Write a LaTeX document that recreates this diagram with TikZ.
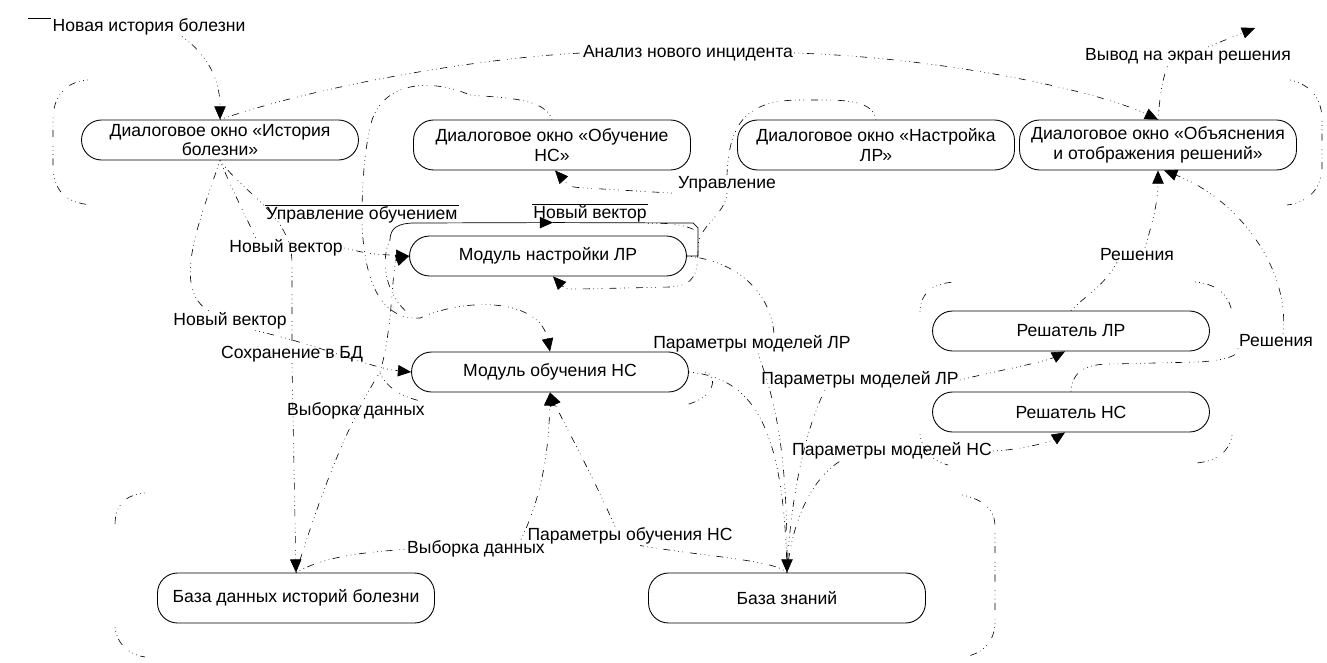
\documentclass[tikz,border=0pt]{standalone}
\usepackage{fontspec}
\setmainfont{Liberation Sans}
\usetikzlibrary{arrows.meta,calc}

\tikzset{
  box/.style={draw, line width=0.5pt, rounded corners=0.4cm, minimum width=5.54cm,
    minimum height=0.8cm, align=center, inner sep=1pt, font=\fontsize{10}{11}\selectfont},
  tall/.style={minimum height=1cm},
  lbl/.style={inner sep=0.5pt, font=\fontsize{10}{11}\selectfont},
  flow/.style={line width=0.35pt, dash pattern=on 0.4pt off 2pt on 0.4pt off 2pt on 0.4pt off 2pt on 4pt off 4pt},
  grp/.style={line width=0.35pt, dash pattern=on 0.4pt off 2pt on 0.4pt off 2pt on 0.4pt off 2pt on 4pt off 5pt},
  tip/.style={-{Triangle[length=7.5pt,width=6.5pt]}},
  thinline/.style={line width=0.4pt},
}

\begin{document}
\begin{tikzpicture}[x=0.02cm,y=-0.02cm]
    \useasboundingbox (0,0) rectangle (1327,662);

    % windows
    \node[box] (dlgH) at (220,140) {Диалоговое окно «История\\болезни»};
    \node[box,tall] (dlgNS) at (552,145) {Диалоговое окно «Обучение\\НС»};
    \node[box,tall] (dlgLR) at (876,145) {Диалоговое окно «Настройка\\ЛР»};
    \node[box,tall] (dlgE) at (1158,145) {Диалоговое окно «Объяснения\\и отображения решений»};

    % modules
    \node[box] (modLR) at (548,256) {Модуль настройки ЛР};
    \node[box] (modNS) at (550,372) {Модуль обучения НС};
    \node[box] (solLR) at (1071,331) {Решатель ЛР};
    \node[box] (solNS) at (1071,412) {Решатель НС};

    % stores
    \node[box,tall] (dbH) at (296,598) {База данных историй болезни};
    \node[box,tall] (kb) at (787,598) {База знаний};

    % flow labels
    \node[lbl] (lNew) at (149,27) {Новая история болезни};
    \node[lbl] (lAn) at (688,53) {Анализ нового инцидента};
    \node[lbl] (lOut) at (1188,56) {Вывод на экран решения};
    \node[lbl] (lUO) at (362,215) {Управление обучением};
    \node[lbl] (lNV1) at (286,248) {Новый вектор};
    \node[lbl] (lNV2) at (230,321) {Новый вектор};
    \node[lbl] (lNV3) at (590,214) {Новый вектор};
    \node[lbl] (lSave) at (292,354) {Сохранение в БД};
    \node[lbl] (lSel1) at (356,411) {Выборка данных};
    \node[lbl] (lSel2) at (476,549) {Выборка данных};
    \node[lbl] (lUpr) at (727,184) {Управление};
    \node[lbl] (lPLR1) at (752,344) {Параметры моделей ЛР};
    \node[lbl] (lPLR2) at (860,380) {Параметры моделей ЛР};
    \node[lbl] (lPNS) at (892,451) {Параметры моделей НС};
    \node[lbl] (lPO) at (630,536) {Параметры обучения НС};
    \node[lbl] (lRes1) at (1137,255) {Решения};
    \node[lbl] (lRes2) at (1276,341) {Решения};

    \coordinate (src) at (28,18);
    \coordinate (scr) at (1255,28);
    \coordinate (nvL) at (390,240);

    % new case history
    \draw[thinline] (src) -- (lNew.west |- src);
    \draw[flow,tip] ($(lNew.south)+(33,0)$) .. controls (212,58) and (220,85) .. (dlgH.north);

    % analysis of a new incident
    \draw[flow] (dlgH.north) .. controls (320,85) and (480,58) .. (lAn.west);
    \draw[flow,tip] (lAn.east) .. controls (950,58) and (1100,92) .. (dlgE.north);

    % output to screen
    \draw[flow] (dlgE.north) .. controls (1160,95) and (1162,80) .. ($(lOut.south)+(-20,0)$);
    \draw[flow,tip] ($(lOut.north)+(20,0)$) .. controls (1225,40) .. (scr);

    % new vector
    \draw[flow] (dlgH.south) .. controls (232,190) and (250,225) .. ($(lNV1.north)+(-30,0)$);
    \draw[flow,tip] (lNV1.east) .. controls (370,254) .. (modLR.west);
    \draw[flow] (dlgH.south) .. controls (200,220) and (170,290) .. ($(lNV2.north)+(-20,0)$);
    \draw[flow,tip] ($(lNV2.south)+(25,0)$) .. controls (320,345) and (370,368) .. (modNS.west);

    % save to DB
    \draw[flow] (dlgH.south) .. controls (245,195) and (291,215) .. (292,262) -- (lSave.north);
    \draw[flow,tip] (lSave.south) -- (dbH.north);

    % data selection
    \draw[flow,tip] (dbH.north) .. controls (325,480) and (350,420) .. (380,372)
        .. controls (393,330) and (392,262) .. (modLR.west);
    \draw[flow] (dbH.north) .. controls (330,553) and (380,552) .. (lSel2.west);
    \draw[flow,tip] ($(lSel2.north)+(45,0)$) .. controls (545,490) and (549,440) .. (modNS.south);

    % training parameters
    \draw[flow] (kb.north) .. controls (775,560) and (700,556) .. ($(lPO.south)+(10,0)$);
    \draw[flow,tip] ($(lPO.north)+(-15,0)$) .. controls (590,470) and (562,420) .. (modNS.south);

    % training control
    \draw[flow] (dlgNS.north) .. controls (545,98) and (505,98) .. (470,95)
        .. controls (430,78) and (385,82) .. (372,120) .. controls (364,150) and (363,180) .. (lUO.north);
    \draw[thinline] (lUO.north west) -- (lUO.north east);
    \draw[flow,tip] (lUO.south) .. controls (365,290) and (385,320) .. (420,318)
        .. controls (470,296) and (540,300) .. (modNS.north);

    % setup control
    \draw[flow] (dlgLR.north) .. controls (872,98) and (840,100) .. (800,100)
        .. controls (745,100) and (729,125) .. (lUpr.north);
    \draw[flow,tip] (lUpr.south) .. controls (725,215) and (700,225) .. (698,245)
        .. controls (698,275) and (695,285) .. (670,287) -- (580,289)
        .. controls (565,289) .. ($(modLR.south)+(5,0)$);
    \draw[flow,tip] ($(lUpr.south west)+(-5,0)$) -- (585,188) .. controls (570,187) .. ($(dlgNS.south)+(3,0)$);

    % new vector loop of the setup module
    \draw[thinline,tip] (nvL) .. controls (390,228) and (398,223) .. (415,223) -- ($(modLR.north)+(5,-13)$);
    \draw[thinline] ($(modLR.north)+(5,-13)$) -- (693,223) -- (698,228) -- (698,256) -- (modLR.east);
    \draw[thinline] (lNV3.north west) -- (lNV3.north east);
    \draw[flow] (lNV3.south east) .. controls (670,222) and (690,226) .. (698,232);

    % model parameters to knowledge base
    \draw[flow] (modLR.east) .. controls (745,262) and (772,300) .. ($(lPLR1.north)+(22,0)$);
    \draw[flow,tip] ($(lPLR1.south)+(6,0)$) .. controls (775,400) and (787,450) .. (kb.north);
    \draw[flow] (modNS.east) .. controls (750,378) and (784,420) .. (kb.north);

    % knowledge base to solvers
    \draw[flow] (kb.north) .. controls (790,500) and (805,430) .. ($(lPLR2.south west)+(65,0)$);
    \draw[flow,tip] (lPLR2.east) .. controls (1000,370) and (1045,362) .. ($(solLR.south)+(-6,0)$);
    \draw[flow] (kb.north) .. controls (792,520) and (812,478) .. ($(lPNS.south west)+(50,0)$);
    \draw[flow,tip] (lPNS.east) .. controls (1020,450) and (1050,442) .. ($(solNS.south)+(-6,0)$);

    % decisions
    \draw[flow] (solLR.north) .. controls (1085,296) and (1105,285) .. ($(lRes1.south)+(-20,0)$);
    \draw[flow,tip] ($(lRes1.north)+(8,0)$) .. controls (1150,230) and (1158,205) .. (dlgE.south);
    \draw[flow] (solNS.north) .. controls (1072,372) and (1085,364) .. (1110,364) -- (1200,362)
        .. controls (1225,360) and (1240,356) .. (lRes2.south west);
    \draw[flow,tip] ($(lRes2.north)+(7,0)$) .. controls (1290,270) and (1240,200) .. ($(dlgE.south)+(6,0)$);

    % group outlines
    \draw[grp] (88,80) .. controls (62,82) and (53,100) .. (53,120) -- (53,165)
        .. controls (53,190) and (65,203) .. (92,205);
    \draw[grp] (1290,80) .. controls (1312,85) and (1322,100) .. (1322,120) -- (1322,170)
        .. controls (1320,192) and (1305,203) .. (1287,205);
    \draw[grp] (920,312) .. controls (920,292) and (935,282) .. (958,282);
    \draw[grp] (1195,282) .. controls (1220,284) and (1230,298) .. (1232,313);
    \draw[grp] (920,434) .. controls (922,452) and (935,462) .. (948,465);
    \draw[grp] (1232,435) .. controls (1230,452) and (1215,462) .. (1195,463);
    \draw[grp] (145,493) .. controls (125,495) and (115,505) .. (115,525);
    \draw[grp] (115,627) .. controls (117,645) and (130,655) .. (145,657);
    \draw[grp] (962,495) .. controls (985,500) and (995,510) .. (995,527) -- (995,625)
        .. controls (993,645) and (980,655) .. (962,657);
    \draw[grp] (nvL) .. controls (380,260) and (385,295) .. (410,315);
    \draw[grp] (705,372) .. controls (718,375) and (716,398) .. (685,405);
    \draw[grp] (380,373) .. controls (388,390) and (405,398) .. (425,402);

\end{tikzpicture}
\end{document}
